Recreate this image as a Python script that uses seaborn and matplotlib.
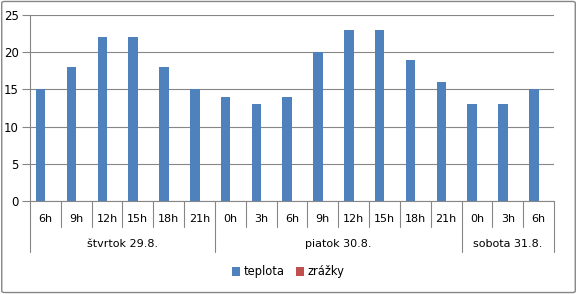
import matplotlib
matplotlib.use("Agg")
import matplotlib.pyplot as plt
import matplotlib.transforms as mtransforms
from matplotlib.patches import FancyBboxPatch, Patch
import seaborn as sns
import pandas as pd

hours = ["6h", "9h", "12h", "15h", "18h", "21h",
         "0h", "3h", "6h", "9h", "12h", "15h", "18h", "21h",
         "0h", "3h", "6h"]
days = ["štvrtok 29.8.", "piatok 30.8.", "sobota 31.8."]
day_sizes = [6, 8, 3]
teplota = [15, 18, 22, 22, 18, 15, 14, 13, 14, 20, 23, 23, 19, 16, 13, 13, 15]
zrazky = [0] * 17
series_names = ["teplota", "zrážky"]
colors = ["#4F81BD", "#C0504D"]

sns.set_style("white")
plt.rcParams["font.family"] = ["DejaVu Sans"]
plt.rcParams["text.color"] = "black"
plt.rcParams["ytick.labelcolor"] = "black"

n = len(hours)
ids = [str(i) for i in range(n)]
df = pd.DataFrame({
    "cat": ids * 2,
    "value": teplota + zrazky,
    "series": [series_names[0]] * n + [series_names[1]] * n,
})

fig = plt.figure(figsize=(5.77, 2.94), dpi=100)
ax = fig.add_axes([30 / 577, 1 - 201 / 294, (554 - 30) / 577, (201 - 15) / 294])

sns.barplot(data=df, x="cat", y="value", hue="series", order=ids,
            hue_order=series_names, palette=colors, width=0.62,
            saturation=1, ax=ax, legend=False, errorbar=None, linewidth=0)

ax.set_xlim(-0.5, n - 0.5)
ax.set_ylim(0, 25)
ax.set_yticks(range(0, 26, 5))
ax.yaxis.grid(True, color="#868686", linewidth=0.8)
ax.set_axisbelow(True)
ax.set_xlabel("")
ax.set_ylabel("")
ax.set_xticks([])
for s in ["top", "right"]:
    ax.spines[s].set_visible(False)
ax.spines["left"].set_color("#868686")
ax.spines["bottom"].set_color("#868686")
ax.spines["left"].set_linewidth(0.8)
ax.spines["bottom"].set_linewidth(0.8)
ax.tick_params(axis="y", length=6, width=0.8, color="#868686", pad=2,
               labelsize=8.5, left=True, labelcolor="black")

trans = mtransforms.blended_transform_factory(ax.transData, ax.transAxes)
px = 1 / 186.0  # axes fraction per pixel (vertically)

for i, h in enumerate(hours):
    ax.text(i, -18 * px, h, transform=trans, ha="center", va="center",
            fontsize=8, color="black")
bounds_major = [-0.5]
acc = -0.5
for sz in day_sizes:
    acc += sz
    bounds_major.append(acc)
for b in [i - 0.5 for i in range(n + 1)]:
    length = 51 if b in bounds_major else 26
    ax.plot([b, b], [0, -length * px], transform=trans, color="#868686",
            linewidth=0.8, clip_on=False)
start = -0.5
for d, sz in zip(days, day_sizes):
    ax.text(start + sz / 2, -43 * px, d, transform=trans, ha="center",
            va="center", fontsize=8, color="black")
    start += sz

handles = [Patch(facecolor=c, edgecolor="none") for c in colors]
fig.legend(handles, series_names, loc="center", bbox_to_anchor=(0.5, 1 - 272 / 294),
           ncol=2, frameon=False, fontsize=8.3, handlelength=0.7, handleheight=0.7,
           handletextpad=0.3, columnspacing=1.0, labelcolor="black")

border = FancyBboxPatch((0.003, 0.005), 0.994, 0.99, boxstyle="round,pad=0,rounding_size=0.005",
                        transform=fig.transFigure, facecolor="none",
                        edgecolor="#868686", linewidth=1.0)
fig.patches.append(border)

fig.savefig("out.png", dpi=100)
